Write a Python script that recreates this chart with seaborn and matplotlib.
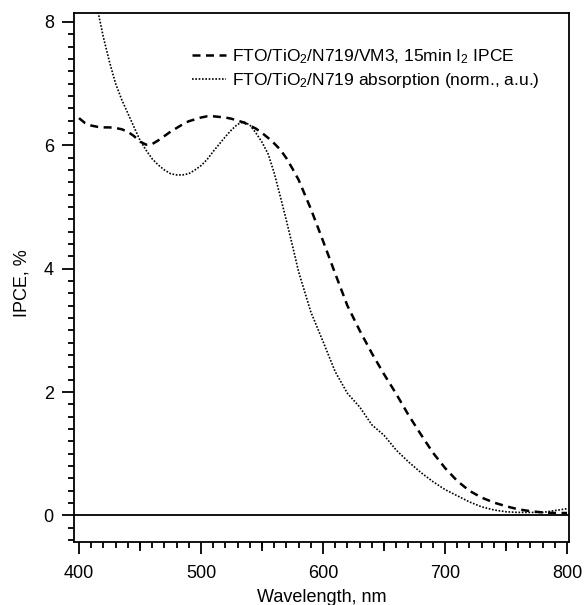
import matplotlib
matplotlib.use("Agg")
import matplotlib.pyplot as plt
import pandas as pd
import seaborn as sns
from matplotlib.ticker import MultipleLocator, FixedLocator, NullFormatter

# data (5 nm steps up to 580 nm, then 10 nm)
wavelength = [400, 405, 410, 415, 420, 425, 430, 435, 440, 445, 450, 455, 460, 465,
              470, 475, 480, 485, 490, 495, 500, 505, 510, 515, 520, 525, 530, 535,
              540, 545, 550, 555, 560, 565, 570, 575, 580,
              590, 600, 610, 620, 630, 640, 650, 660, 670, 680, 690, 700, 710, 720,
              730, 740, 750, 760, 770, 780, 790, 800]
ipce = [6.44, 6.36, 6.32, 6.30, 6.29, 6.29, 6.28, 6.26, 6.22, 6.15, 6.06, 6.01, 6.02,
        6.08, 6.15, 6.22, 6.28, 6.34, 6.39, 6.42, 6.45, 6.47, 6.47, 6.46, 6.45, 6.43,
        6.40, 6.37, 6.32, 6.27, 6.20, 6.12, 6.03, 5.93, 5.79, 5.62, 5.44,
        4.97, 4.45, 3.92, 3.40, 3.00, 2.63, 2.29, 1.97, 1.63, 1.32, 1.02, 0.77, 0.56,
        0.40, 0.29, 0.21, 0.15, 0.10, 0.07, 0.05, 0.04, 0.04]
absorption = [9.90, 9.30, 8.75, 8.22, 7.75, 7.35, 7.00, 6.74, 6.52, 6.30, 6.08, 5.92,
              5.78, 5.68, 5.60, 5.54, 5.52, 5.52, 5.54, 5.60, 5.67, 5.77, 5.90, 6.02,
              6.14, 6.25, 6.34, 6.38, 6.33, 6.20, 6.05, 5.86, 5.55, 5.17, 4.78, 4.37,
              3.95,
              3.30, 2.82, 2.33, 1.98, 1.76, 1.47, 1.30, 1.06, 0.87, 0.70, 0.55, 0.42,
              0.32, 0.22, 0.14, 0.09, 0.06, 0.05, 0.05, 0.05, 0.08, 0.11]

label_ipce = r"FTO/TiO$_2$/N719/VM3, 15min I$_2$ IPCE"
label_abs = r"FTO/TiO$_2$/N719 absorption (norm., a.u.)"

df = pd.DataFrame({"wavelength": wavelength, "ipce": ipce, "absorption": absorption})

sns.set_style("ticks")
plt.rcParams["font.family"] = ["Liberation Sans", "DejaVu Sans"]
plt.rcParams["mathtext.fontset"] = "custom"
plt.rcParams["mathtext.rm"] = "Liberation Sans"
plt.rcParams["mathtext.it"] = "Liberation Sans:italic"
for key in ["text.color", "axes.labelcolor", "xtick.color", "ytick.color", "axes.edgecolor"]:
    plt.rcParams[key] = "black"

fig = plt.figure(figsize=(5.84, 6.05), dpi=100)
ax = fig.add_axes([0.1267, 0.1046, 0.8476, 0.8739])

sns.lineplot(data=df, x="wavelength", y="ipce", ax=ax, color="black",
             linewidth=1.8, linestyle=(0, (3.2, 2.2)), label=label_ipce)
sns.lineplot(data=df, x="wavelength", y="absorption", ax=ax, color="black",
             linewidth=1.2, linestyle=(0, (1, 1)), label=label_abs)
ax.axhline(0, color="black", linewidth=1.3)

ax.set_xlim(395.9, 801.6)
ax.set_ylim(-0.425, 8.144)

ax.xaxis.set_major_locator(MultipleLocator(100))
ax.xaxis.set_minor_locator(MultipleLocator(10))
ax.yaxis.set_major_locator(MultipleLocator(2))
ax.yaxis.set_minor_locator(MultipleLocator(0.2))

for s in ax.spines.values():
    s.set_visible(True)
    s.set_linewidth(1.3)
    s.set_color("black")

ax.tick_params(which="major", direction="out", length=8.5, width=1.3,
               labelsize=13, color="black", labelcolor="black", pad=6)
ax.tick_params(which="minor", direction="out", length=4.5, width=1.3, color="black")
ax.tick_params(axis="x", which="major", pad=8)

# medium-length ticks at the 50 nm marks
sec = ax.secondary_xaxis("bottom")
sec.xaxis.set_major_locator(FixedLocator([450, 550, 650, 750]))
sec.xaxis.set_major_formatter(NullFormatter())
sec.tick_params(direction="out", length=6.5, width=1.3, color="black")
sec.spines["bottom"].set_visible(False)

ax.set_xlabel("Wavelength, nm", fontsize=13, color="black")
ax.set_ylabel("IPCE, %", fontsize=13, color="black")
ax.xaxis.set_label_coords(0.5, -0.09)
ax.yaxis.set_label_coords(-0.087, 0.49)

ax.legend(loc="upper left", bbox_to_anchor=(0.238, 0.935), frameon=False,
          fontsize=12.5, handlelength=1.95, handletextpad=0.35,
          borderpad=0, borderaxespad=0, labelspacing=0.3)

fig.savefig("out.png", dpi=100)
